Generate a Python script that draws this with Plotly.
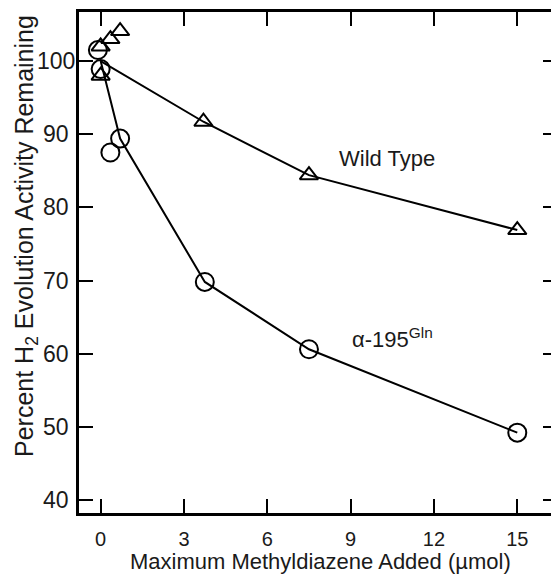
import plotly.graph_objects as go

# Wild type (triangles) individual measurements
wt_x = [0.0, 0.0, 0.35, 0.7, 3.7, 7.5, 15.0]
wt_y = [102.0, 98.0, 103.0, 104.1, 91.7, 84.4, 76.9]
# Wild type connecting line (starts at 100 %)
wt_line_x = [0.0, 3.7, 7.5, 15.0]
wt_line_y = [100.0, 91.7, 84.4, 76.9]

# alpha-195Gln (circles) individual measurements
gln_x = [-0.1, 0.0, 0.35, 0.7, 3.75, 7.5, 15.0]
gln_y = [101.5, 98.9, 87.5, 89.4, 69.8, 60.6, 49.2]
gln_line_x = [0.0, 0.7, 3.75, 7.5, 15.0]
gln_line_y = [100.0, 89.4, 69.8, 60.6, 49.2]

x_ticks = [0, 3, 6, 9, 12, 15]
y_ticks = [40, 50, 60, 70, 80, 90, 100]
y_tick_labels = ["40", "50", "60", "70", "80", "90", "100"]

x_title = "Maximum Methyldiazene Added (µmol)"
y_title = "Percent H<sub>2</sub> Evolution Activity Remaining"

FONT = "Liberation Sans, Arial, sans-serif"
INK = "#1a1a1a"

# the page body adds an 8px offset, so the figure is laid out 8px smaller
OFF = 8
W, H = 559 - OFF, 574 - OFF
ML, MR, MT, MB = 79 - OFF, 2, 12 - OFF, 61
PW, PH = W - ML - MR, H - MT - MB


def py(page_y):
    return (MT + PH - (page_y - OFF)) / PH


def px(page_x):
    return (page_x - OFF - ML) / PW


fig = go.Figure()
fig.add_trace(go.Scatter(x=wt_line_x, y=wt_line_y, mode="lines",
                         line=dict(color="black", width=2), showlegend=False, hoverinfo="skip"))
fig.add_trace(go.Scatter(x=gln_line_x, y=gln_line_y, mode="lines",
                         line=dict(color="black", width=2), showlegend=False, hoverinfo="skip"))
fig.add_trace(go.Scatter(x=gln_x, y=gln_y, mode="markers", name="α-195Gln",
                         marker=dict(symbol="circle-open", size=18, color="black",
                                     line=dict(width=2, color="black")),
                         showlegend=False))
fig.add_trace(go.Scatter(x=wt_x, y=wt_y, mode="markers", name="Wild Type",
                         marker=dict(symbol="triangle-up-open", size=16, color="black",
                                     line=dict(width=2, color="black")),
                         showlegend=False))

fig.add_annotation(x=10.3, y=86.7, text="Wild Type", showarrow=False,
                   font=dict(family=FONT, size=22, color=INK))
fig.add_annotation(x=8.97, y=62.1, text="α-195<sup>Gln</sup>", showarrow=False,
                   xanchor="left", yanchor="middle",
                   font=dict(family=FONT, size=22, color=INK))

# y tick labels: centred column, positioned by the y axis scale
for val, lab in zip(y_ticks, y_tick_labels):
    fig.add_annotation(xref="paper", yref="y", x=px(56), y=val, text=lab,
                       showarrow=False, xanchor="center", yanchor="middle",
                       font=dict(family=FONT, size=23, color=INK))

# axis titles
fig.add_annotation(xref="paper", yref="paper", x=px(320), y=py(561),
                   text=x_title, showarrow=False, xanchor="center", yanchor="middle",
                   font=dict(family=FONT, size=22, color=INK))
fig.add_annotation(xref="paper", yref="paper", x=px(26), y=py(236),
                   text=y_title, showarrow=False, textangle=-90,
                   xanchor="center", yanchor="middle",
                   font=dict(family=FONT, size=25, color=INK))

axis_common = dict(showgrid=False, zeroline=False, showline=True, linecolor="black",
                   linewidth=2.5, mirror="ticks", ticks="inside", ticklen=14,
                   tickwidth=2, tickcolor="black", automargin=False)

fig.update_xaxes(range=[-0.78, 16.43], tickvals=x_ticks, ticklabelstandoff=6,
                 tickfont=dict(family=FONT, size=20, color=INK), **axis_common)
fig.update_yaxes(range=[38.22, 106.7], tickvals=y_ticks, showticklabels=False,
                 **axis_common)

fig.update_layout(width=W, height=H,
                  margin=dict(l=ML, r=MR, t=MT, b=MB, autoexpand=False),
                  plot_bgcolor="white", paper_bgcolor="white",
                  font=dict(family=FONT, color=INK))

fig.write_html("out.html")
